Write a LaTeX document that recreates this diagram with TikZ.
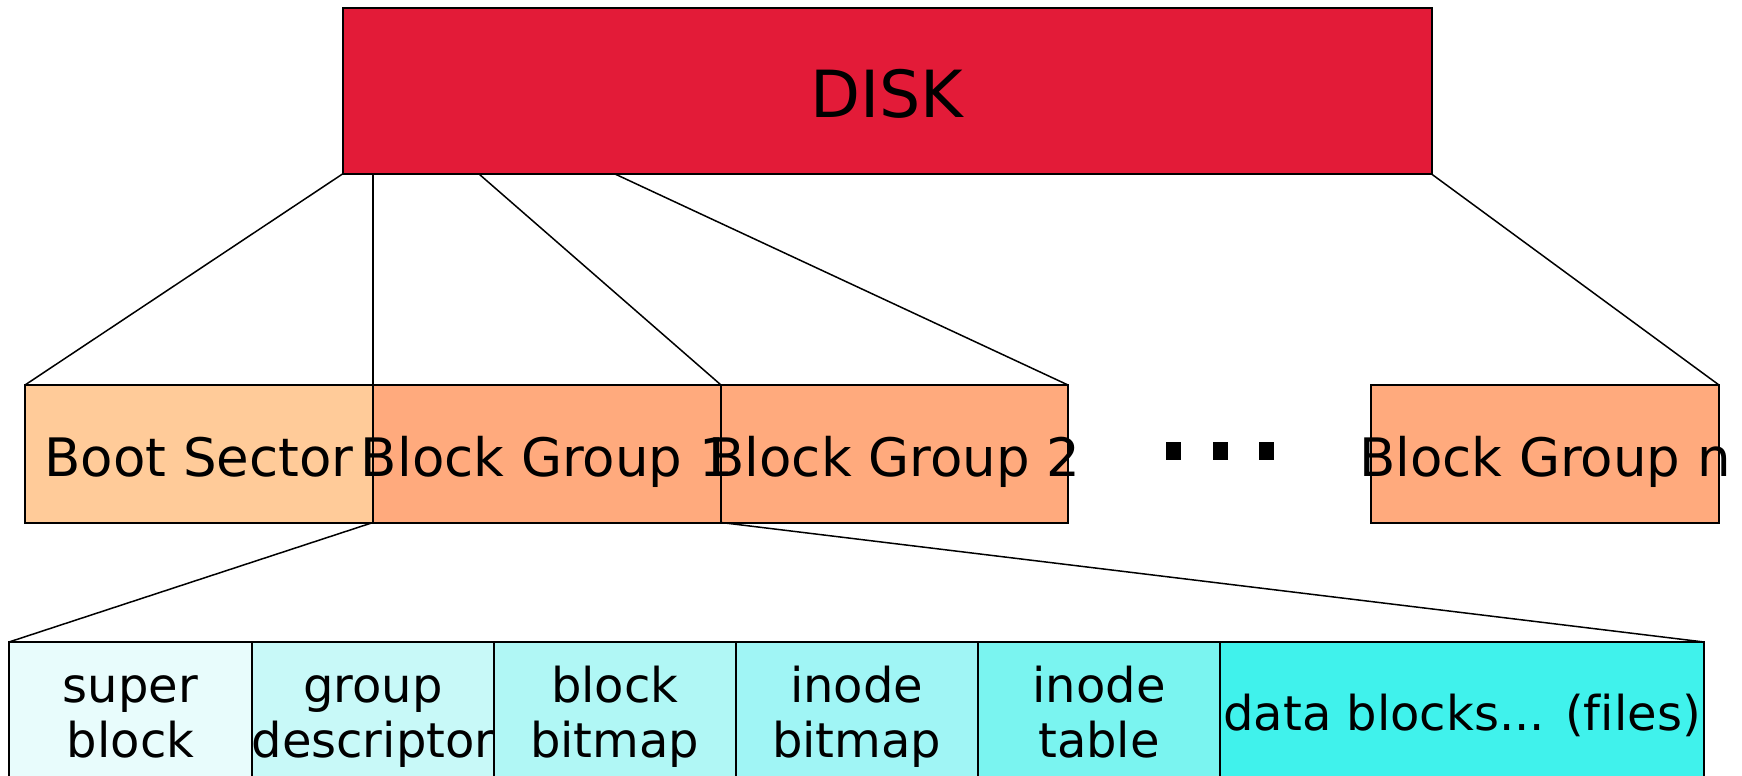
\documentclass[tikz,border=0pt]{standalone}
\usepackage{fontspec}
\setmainfont{DejaVu Sans}[Ligatures=NoCommon]
\definecolor{diskred}{RGB}{227,27,56}
\definecolor{bootorange}{RGB}{255,203,153}
\definecolor{grouporange}{RGB}{255,170,125}
\definecolor{cyanA}{RGB}{232,252,252}
\definecolor{cyanB}{RGB}{200,249,248}
\definecolor{cyanC}{RGB}{176,247,245}
\definecolor{cyanD}{RGB}{160,245,245}
\definecolor{cyanE}{RGB}{122,244,240}
\definecolor{cyanF}{RGB}{64,242,236}

\begin{document}
\begin{tikzpicture}[x=1pt,y=1pt,
		box/.style={draw=black,line width=2pt,inner sep=0pt,outer sep=0pt,anchor=north west},
		link/.style={draw=black,line width=1.5pt},
		bigtext/.style={font=\fontsize{65}{78}\selectfont,anchor=base},
		midtext/.style={font=\fontsize{53}{64}\selectfont,anchor=base},
		smalltext/.style={font=\fontsize{48}{55}\selectfont,align=center,anchor=base}]
				\useasboundingbox (0,0) rectangle (1742,-776);
				\clip (0,0) rectangle (1742,-776);
				% disk
				\node[box,fill=diskred,minimum width=1089pt,minimum height=166pt] (disk) at (342.5,-8) {};
				% block groups
				\node[box,fill=bootorange,minimum width=348pt,minimum height=137.5pt] (boot) at (25,-385) {};
				\node[box,fill=grouporange,minimum width=348pt,minimum height=137.5pt] (grp1) at (373,-385) {};
				\node[box,fill=grouporange,minimum width=347pt,minimum height=137.5pt] (grp2) at (721,-385) {};
				\node[box,fill=grouporange,minimum width=348pt,minimum height=137.5pt] (grpn) at (1371,-385) {};
				% inside one group
				\node[box,fill=cyanA,minimum width=243pt,minimum height=200pt] (sup) at (9,-642) {};
				\node[box,fill=cyanB,minimum width=242pt,minimum height=200pt] (gdesc) at (252,-642) {};
				\node[box,fill=cyanC,minimum width=241.5pt,minimum height=200pt] (bbmap) at (494,-642) {};
				\node[box,fill=cyanD,minimum width=242.5pt,minimum height=200pt] (ibmap) at (735.5,-642) {};
				\node[box,fill=cyanE,minimum width=242pt,minimum height=200pt] (itab) at (978,-642) {};
				\node[box,fill=cyanF,minimum width=484pt,minimum height=200pt] (data) at (1220,-642) {};
				\coordinate (d3) at (479,-174);
				\coordinate (d4) at (615,-174);
				\draw[link] (disk.south west) -- (boot.north west);
				\draw[link] (boot.north east |- disk.south) -- (boot.north east);
				\draw[link] (d3) -- (grp1.north east);
				\draw[link] (d4) -- (grp2.north east);
				\draw[link] (disk.south east) -- (grpn.north east);
				\draw[link] (grp1.south west) -- (sup.north west);
				\draw[link] (grp2.south west) -- (data.north east);
				\foreach \x in {1173.5,1220.5,1266.5}
					\fill (\x-7.5,-442) rectangle ++(15,-18);
				% labels on top
				\node[bigtext] (disktext) at ([yshift=-26pt]disk.center) {DISK};
				\foreach \name/\txt in {boot/Boot Sector,grp1/Block Group 1,grp2/Block Group 2,grpn/Block Group n}
					\node[midtext] (\name-t) at ([yshift=-23pt]\name.center) {\txt};
				\foreach \name/\txt in {sup/{super\\block},gdesc/{group\\descriptor},bbmap/{block\\bitmap},ibmap/{inode\\bitmap},itab/{inode\\table}}
					\node[smalltext] (\name-t) at ([yshift=-115pt]\name.north) {\txt};
				\node[smalltext] (data-t) at ([yshift=-88pt]data.north) {data blocks... (files)};
\end{tikzpicture}
\end{document}
